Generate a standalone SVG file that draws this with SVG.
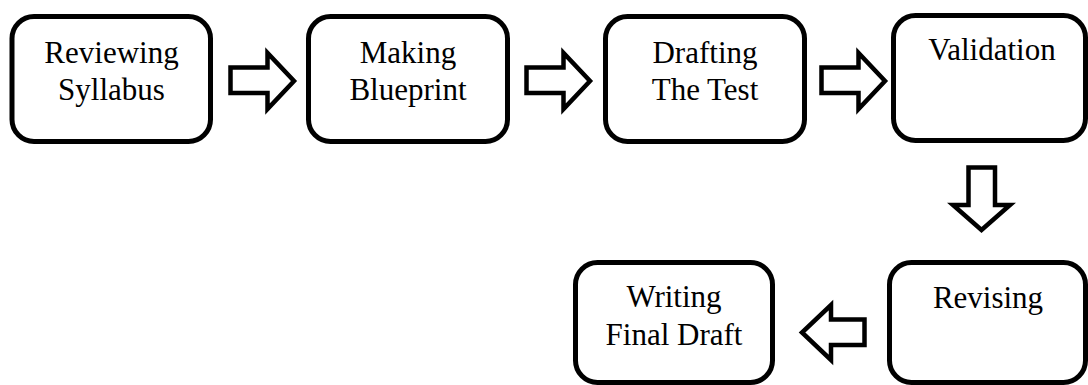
<svg xmlns="http://www.w3.org/2000/svg" width="1088" height="385" viewBox="0 0 1088 385">
  <style>
    .box { fill: #ffffff; stroke: #000000; stroke-width: 5; }
    .arrow { fill: #ffffff; stroke: #000000; stroke-width: 4.5; stroke-linejoin: miter; }
    .label { font-family: "Liberation Serif", "Times New Roman", serif; font-size: 31px; fill: #000000; text-anchor: middle; }
  </style>
  <rect width="1088" height="385" fill="#ffffff"/>

  <!-- block arrows between the steps -->
  <g id="connectors">
    <path class="arrow" d="M230.5,67.5 H267.5 V53 L294,81 L267.5,109 V93 H230.5 Z"/>
    <path class="arrow" d="M526.5,67.5 H563.5 V53 L590,81 L563.5,109 V93 H526.5 Z"/>
    <path class="arrow" d="M821.5,67.5 H858.5 V53 L885,81 L858.5,109 V93 H821.5 Z"/>
    <path class="arrow" d="M968.5,167.5 H995 V205 H1010 L981.5,230 L953,205 H968.5 Z"/>
    <path class="arrow" d="M864.5,319.5 H831 V305 L802,332.5 L831,360 V345 H864.5 Z"/>
  </g>

  <g id="reviewing-syllabus">
    <rect class="box" x="12" y="16.5" width="198.5" height="125" rx="22"/>
    <text class="label" x="111.5" y="63">Reviewing</text>
    <text class="label" x="111.5" y="100">Syllabus</text>
  </g>

  <g id="making-blueprint">
    <rect class="box" x="308.5" y="16.5" width="199" height="125" rx="22"/>
    <text class="label" x="408" y="63">Making</text>
    <text class="label" x="408" y="100">Blueprint</text>
  </g>

  <g id="drafting-the-test">
    <rect class="box" x="605.5" y="16.5" width="199" height="125" rx="22"/>
    <text class="label" x="705" y="63">Drafting</text>
    <text class="label" x="705" y="100">The Test</text>
  </g>

  <g id="validation">
    <rect class="box" x="893.5" y="15.5" width="192" height="125" rx="22"/>
    <text class="label" x="992" y="60">Validation</text>
  </g>

  <g id="revising">
    <rect class="box" x="889.5" y="262.5" width="196" height="120" rx="22"/>
    <text class="label" x="988" y="308">Revising</text>
  </g>

  <g id="writing-final-draft">
    <rect class="box" x="575.5" y="262.5" width="197" height="120" rx="22"/>
    <text class="label" x="674" y="307">Writing</text>
    <text class="label" x="674" y="345">Final Draft</text>
  </g>
</svg>
